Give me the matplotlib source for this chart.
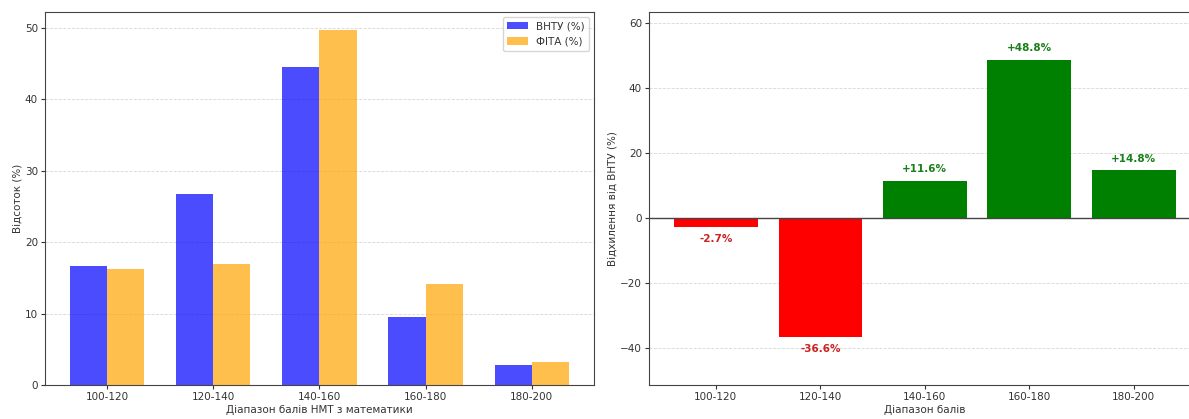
import matplotlib.pyplot as plt
import numpy as np

ranges = ["100-120", "120-140", "140-160", "160-180", "180-200"]
vntu_pct = [16.7, 26.7, 44.5, 9.5, 2.8]
fita_pct = [16.25, 16.93, 49.67, 14.14, 3.21]
deviation = [-2.7, -36.6, 11.6, 48.8, 14.8]

FONT = 7.5
INK = "#333333"


def style_axes(ax) -> None:
    ax.tick_params(labelsize=FONT, length=3, pad=2, colors=INK)
    for spine in ax.spines.values():
        spine.set_color("#444444")
    ax.grid(axis="y", linestyle="--", linewidth=0.6, alpha=0.5)
    ax.set_axisbelow(True)


def plot_shares(ax) -> None:
    x = np.arange(len(ranges))
    w = 0.35
    ax.bar(x - w / 2, vntu_pct, w, color="blue", alpha=0.7, label="ВНТУ (%)")
    ax.bar(x + w / 2, fita_pct, w, color="orange", alpha=0.7, label="ФІТА (%)")
    ax.set_xticks(x)
    ax.set_xticklabels(ranges)
    ax.set_xlabel("Діапазон балів НМТ з математики", fontsize=FONT, labelpad=2, color=INK)
    ax.set_ylabel("Відсоток (%)", fontsize=FONT, labelpad=2, color=INK)
    leg = ax.legend(fontsize=FONT, loc="upper right")
    for t in leg.get_texts():
        t.set_color(INK)
    style_axes(ax)


def plot_deviation(ax) -> None:
    x = np.arange(len(ranges))
    colors = ["green" if d >= 0 else "red" for d in deviation]
    ax.bar(x, deviation, 0.8, color=colors)
    ax.axhline(0, color="#444444", linewidth=1.0)
    for xi, d in zip(x, deviation):
        if d >= 0:
            ax.text(xi, d + 2, f"+{d:.1f}%", ha="center", va="bottom",
                    color="#1a7f1a", fontweight="bold", fontsize=FONT)
        else:
            ax.text(xi, d - 2, f"{d:.1f}%", ha="center", va="top",
                    color="#cc2222", fontweight="bold", fontsize=FONT)
    ax.set_xticks(x)
    ax.set_xticklabels(ranges)
    ax.set_ylim(min(deviation) * 1.4, max(deviation) * 1.3)
    ax.set_xlabel("Діапазон балів", fontsize=FONT, labelpad=2, color=INK)
    ax.set_ylabel("Відхилення від ВНТУ (%)", fontsize=FONT, labelpad=2, color=INK)
    style_axes(ax)


def main() -> None:
    fig = plt.figure(figsize=(11.89, 4.19), dpi=100)
    ax1 = fig.add_axes([0.0378, 0.0811, 0.4617, 0.890])
    ax2 = fig.add_axes([0.5458, 0.0811, 0.4640, 0.890])
    plot_shares(ax1)
    plot_deviation(ax2)
    fig.savefig("out.png", dpi=100)


if __name__ == "__main__":
    main()
